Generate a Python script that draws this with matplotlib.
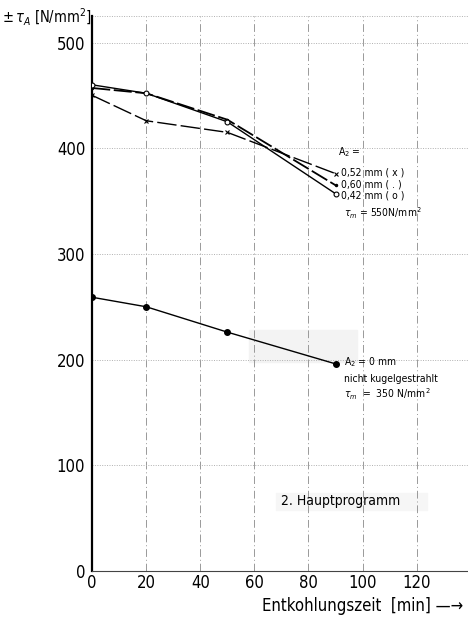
import matplotlib
matplotlib.use("Agg")
import matplotlib.pyplot as plt
import numpy as np

plt.rcParams['font.family'] = ['DejaVu Sans']
plt.rcParams['font.stretch'] = 'condensed'
plt.rcParams['mathtext.fontset'] = 'dejavusans'

time = [0, 20, 50, 90]
tau_052 = [450, 426, 415, 376]
tau_060 = [457, 452, 427, 365]
tau_042 = [460, 452, 425, 357]
tau_000 = [259, 250, 226, 196]

xticks = [0, 20, 40, 60, 80, 100, 120]
yticks = [0, 100, 200, 300, 400, 500]

fig = plt.figure(figsize=(4.68, 6.2), dpi=100)
ax = fig.add_axes([0.197, 0.079, 0.803, 0.895])
ax.set_xlim(0, 139)
ax.set_ylim(0, 525)

for xv in xticks[1:]:
    ax.axvline(xv, color='#999999', lw=0.7, ls=(0, (8, 3, 1, 3)), zorder=1)
for yv in yticks[1:]:
    ax.axhline(yv, color='#b0b0b0', lw=0.7, ls=(0, (1, 1.5)), zorder=1)
ax.axhline(525, color='#b0b0b0', lw=0.7, ls=(0, (1, 1.5)), zorder=1)

# faint stipple areas (scan texture)
ax.fill_between([58, 98], [198, 198], [228, 228], color='#f3f3f3', zorder=0.5)
ax.fill_between([68, 124], [58, 58], [74, 74], color='#f6f6f6', zorder=0.5)

ax.plot(time, tau_052, color='black', lw=1.0, ls=(0, (14, 3)), marker='x', ms=3, mew=0.8, zorder=3)
ax.plot(time, tau_060, color='black', lw=1.3, ls=(0, (10, 2)), marker='.', ms=3, zorder=3)
ax.plot(time, tau_042, color='black', lw=1.0, marker='o', ms=3.5, mfc='white', mew=0.8, zorder=3)
ax.plot(time, tau_000, color='black', lw=1.0, marker='o', ms=4, mfc='black', zorder=3)

for s in ['top', 'right']:
    ax.spines[s].set_visible(False)
ax.spines['left'].set_linewidth(1.6)
ax.spines['bottom'].set_linewidth(0.8)
ax.spines['bottom'].set_linestyle((0, (2, 1)))
ax.spines['bottom'].set_color('#444444')

ax.set_xticks(xticks)
ax.set_yticks(yticks)
ax.tick_params(length=0, labelsize=12, pad=5)
ax.tick_params(axis='x', pad=2)

fig.text(0.005, 0.972, r'$\pm\,\tau_A$ [N/mm$^2$]', fontsize=10.5, ha='left', va='center')
fig.text(0.99, 0.022, 'Entkohlungszeit  [min] —→', fontsize=12, ha='right', va='center')

fs = 7.5
ax.text(91, 396, r'A$_2$ =', fontsize=fs, ha='left', va='center')
ax.text(92, 377, '0,52 mm ( x )', fontsize=fs, ha='left', va='center')
ax.text(92, 366, '0,60 mm ( . )', fontsize=fs, ha='left', va='center')
ax.text(92, 355, '0,42 mm ( o )', fontsize=fs, ha='left', va='center')
ax.text(93, 339, r'$\tau_m$ = 550N/mm$^2$', fontsize=fs, ha='left', va='center')

ax.text(93, 198, r'A$_2$ = 0 mm', fontsize=fs, ha='left', va='center')
ax.text(93, 182, 'nicht kugelgestrahlt', fontsize=fs, ha='left', va='center')
ax.text(93, 167, r'$\tau_m$  =  350 N/mm$^2$', fontsize=fs, ha='left', va='center')

ax.text(70, 66, '2. Hauptprogramm', fontsize=10, ha='left', va='center')

fig.savefig('out.png', dpi=100)
